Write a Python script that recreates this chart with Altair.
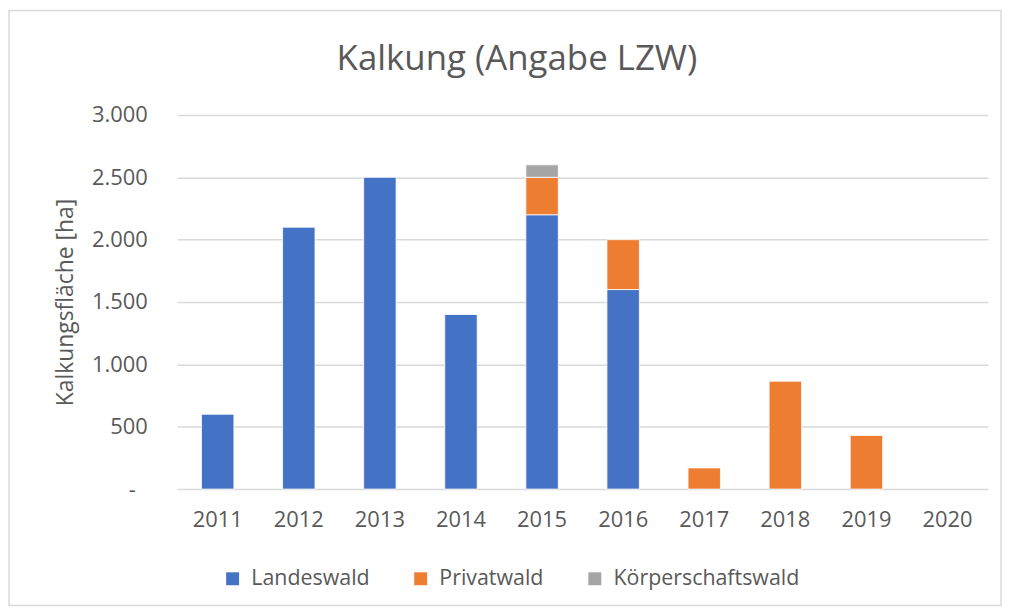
import altair as alt
import pandas as pd

years = ["2011", "2012", "2013", "2014", "2015", "2016", "2017", "2018", "2019", "2020"]
series = ["Landeswald", "Privatwald", "Körperschaftswald"]
landeswald = [600, 2100, 2500, 1400, 2200, 1600, 0, 0, 0, 0]
privatwald = [0, 0, 0, 0, 300, 400, 170, 865, 430, 0]
koerperschaftswald = [0, 0, 0, 0, 100, 0, 0, 0, 0, 0]
colors = ["#4472C4", "#ED7D31", "#A5A5A5"]

rows = []
for i, y in enumerate(years):
    for k, (name, vals) in enumerate(zip(series, [landeswald, privatwald, koerperschaftswald])):
        rows.append({"Jahr": y, "Eigentum": name, "Wert": vals[i], "ord": k})
df = pd.DataFrame(rows)

W, H = 815, 376
FONT = "Open Sans"
GRAY = "#595959"

bars = alt.Chart(df).transform_filter("datum.Wert > 0").mark_bar(
    stroke="white", strokeWidth=0.8
).encode(
    x=alt.X("Jahr:N", scale=alt.Scale(domain=years, paddingInner=0.6, paddingOuter=0.3),
            axis=alt.Axis(title=None, labelAngle=0, labelFontSize=22, labelColor=GRAY,
                          labelFont=FONT, ticks=False, domain=False, labelPadding=21)),
    y=alt.Y("Wert:Q", stack="zero", scale=alt.Scale(domain=[0, 3000]),
            axis=alt.Axis(title="Kalkungsfläche [ha]", values=[0, 500, 1000, 1500, 2000, 2500, 3000],
                          labelExpr="datum.value == 0 ? '-' : replace(format(datum.value, ','), ',', '.')",
                          labelFontSize=22, labelColor=GRAY, labelFont=FONT, ticks=False, domain=False,
                          labelPadding={"condition": {"test": "datum.value == 0", "value": 42}, "value": 30},
                          gridColor="#D9D9D9", gridWidth=1.5,
                          titleFontSize=23, titleColor=GRAY, titleFont=FONT, titleFontWeight="normal",
                          titlePadding=14)),
    color=alt.Color("Eigentum:N", scale=alt.Scale(domain=series, range=colors),
                    legend=alt.Legend(title=None, orient="none", direction="horizontal",
                                      legendX=45, legendY=455, symbolType="square", symbolSize=169,
                                      symbolStrokeWidth=0, labelFontSize=21.5, labelColor=GRAY,
                                      labelFont=FONT, columnPadding=40, labelOffset=8, labelLimit=0)),
    order=alt.Order("ord:Q", sort="ascending"),
)

frame = alt.Chart(pd.DataFrame({"a": [0]})).mark_rect(
    fill=None, stroke="#D9D9D9", strokeWidth=1.5
).encode(
    x=alt.value(-169), x2=alt.value(W + 13),
    y=alt.value(-105), y2=alt.value(H + 117),
)

chart = alt.layer(bars, frame).properties(
    width=W, height=H,
    title=alt.TitleParams("Kalkung (Angabe LZW)", fontSize=35, font=FONT, color=GRAY,
                          fontWeight="normal", anchor="middle", dx=-66, offset=-68),
    padding=0,
    background="white",
).configure_view(stroke=None)

chart.save("out.html", embed_options={"renderer": "svg", "actions": False})
